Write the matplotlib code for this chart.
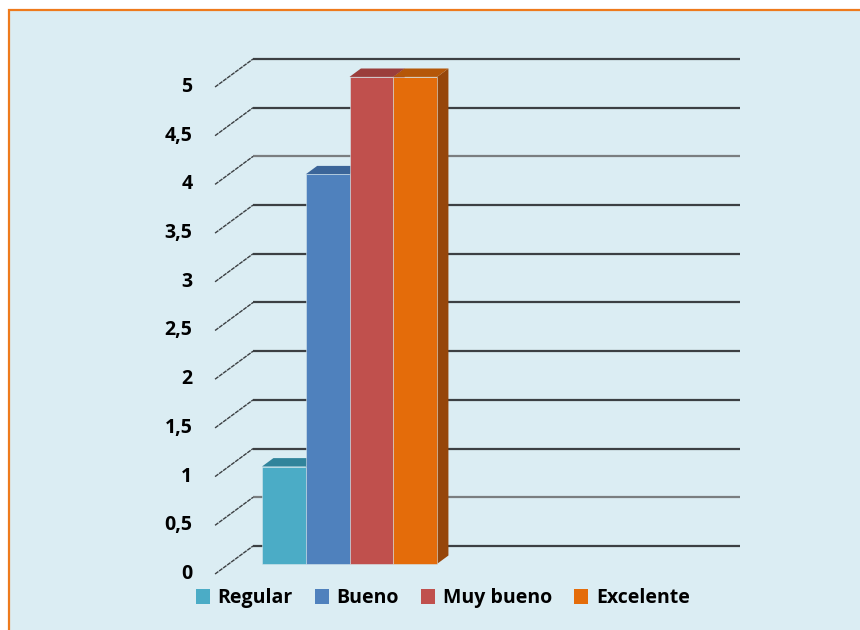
import matplotlib
matplotlib.use("Agg")
import matplotlib.pyplot as plt
from matplotlib.patches import Polygon, Patch

categories = ["Regular", "Bueno", "Muy bueno", "Excelente"]
values = [1, 4, 5, 5]
ticks = [0, 0.5, 1, 1.5, 2, 2.5, 3, 3.5, 4, 4.5, 5]
tick_labels = ["0", "0,5", "1", "1,5", "2", "2,5", "3", "3,5", "4", "4,5", "5"]

front_colors = ["#4BACC6", "#4F81BD", "#C0504D", "#E46C0A"]
top_colors = ["#31849B", "#3B6599", "#9B3E3C", "#B55709"]
side_colors = ["#2E7F94", "#365E8F", "#8E3836", "#96460A"]

BG = "#DBEDF3"
BORDER = "#EE7A1C"

# perspective: full floor depth moves this far in (bar units, value units)
DX, DY = 0.869, 0.2875
BAR_D0, BAR_D1 = 0.36, 0.66   # bar front / back depth
WALL_X0, WALL_X1 = -0.76, 11.24 - DX  # front-plane extent of grid

plt.rcParams['font.family'] = ['Open Sans', 'DejaVu Sans']

fig = plt.figure(figsize=(8.6, 6.3), dpi=100)
fig.patch.set_facecolor("white")
ax = fig.add_axes([0, 0, 1, 1])
ax.set_xlim(-5.675, 13.98)
ax.set_ylim(-0.575, 5.893)
ax.axis("off")

# panel background with orange top/left border
bg_x0, bg_y1 = -5.675 + 9 / 43.75, 5.893 - 10 / 97.4
ax.add_patch(Polygon([(bg_x0, -0.575), (bg_x0, bg_y1), (13.98, bg_y1), (13.98, -0.575)],
                     closed=True, facecolor=BG, edgecolor="none", zorder=0))
ax.plot([bg_x0, bg_x0, 13.98], [-0.575, bg_y1, bg_y1], color=BORDER, lw=1.6,
        solid_joinstyle="miter", zorder=1)

# back-wall grid lines and perspective ticks on the left
for t in ticks:
    col = "#7A7E80" if t in (0.5, 4) else "#3C4043"
    ax.plot([WALL_X0 + DX, WALL_X1 + DX], [t + DY, t + DY], color=col, lw=1.6,
            solid_capstyle="butt", zorder=2)
    ax.plot([WALL_X0, WALL_X0 + DX], [t, t + DY], color="#3C4043", lw=1.0,
            ls=(0, (3, 0.6)), zorder=2)

for t, lab in zip(ticks, tick_labels):
    ax.text(WALL_X0 - 0.52, t, lab, ha="right", va="center", fontsize=14,
            fontweight="bold", color="black")

# 3D bars: side, top, then front face
bdx0, bdy0 = BAR_D0 * DX, BAR_D0 * DY
ddx, ddy = (BAR_D1 - BAR_D0) * DX, (BAR_D1 - BAR_D0) * DY
for i, v in enumerate(values):
    x0, x1 = i + bdx0, i + 1 + bdx0
    y0, y1 = bdy0, v + bdy0
    ax.add_patch(Polygon([(x1, y0), (x1 + ddx, y0 + ddy), (x1 + ddx, y1 + ddy), (x1, y1)],
                         closed=True, facecolor=side_colors[i], edgecolor="none", zorder=3))
    ax.add_patch(Polygon([(x0, y1), (x0 + ddx, y1 + ddy), (x1 + ddx, y1 + ddy), (x1, y1)],
                         closed=True, facecolor=top_colors[i], edgecolor="none", zorder=3))
    ax.bar(i + bdx0, v, width=1, bottom=bdy0, align="edge", color=front_colors[i],
           edgecolor="#D6E6EC", linewidth=0.4, zorder=4)

handles = [Patch(facecolor=c, edgecolor="none") for c in front_colors]
leg = fig.legend(handles, categories, ncol=4, loc="center", frameon=False,
                 bbox_to_anchor=(443 / 860, 1 - 598 / 630), handlelength=0.7,
                 handleheight=0.8, handletextpad=0.4, columnspacing=1.15,
                 prop={"size": 14, "weight": "bold"})

fig.savefig("out.png", dpi=100, facecolor=fig.get_facecolor())
